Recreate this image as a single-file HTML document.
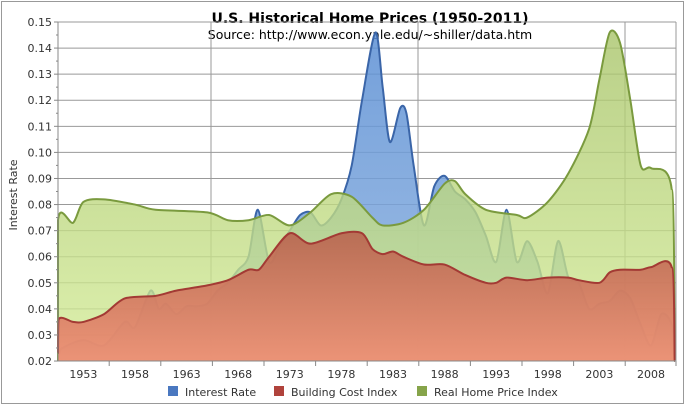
<!DOCTYPE html>
<html><head><meta charset="utf-8"><style>
body{margin:0;background:#fff;}
svg text{font-family:"DejaVu Sans","Liberation Sans",sans-serif;}
</style></head><body>
<svg id="s" width="686" height="413" xmlns="http://www.w3.org/2000/svg">
<defs>
<linearGradient id="gg" x1="0" y1="0" x2="0" y2="1"><stop offset="0" stop-color="#a8c46a"/><stop offset="1" stop-color="#d4ec98"/></linearGradient>
<linearGradient id="gr" x1="0" y1="0" x2="0" y2="1"><stop offset="0" stop-color="#b8604c"/><stop offset="1" stop-color="#f08870"/></linearGradient>
<linearGradient id="gb" x1="0" y1="0" x2="0" y2="1"><stop offset="0" stop-color="#5b8fd4"/><stop offset="1" stop-color="#8fb3e0"/></linearGradient>
</defs>
<rect x="1.5" y="1.5" width="682" height="402" fill="#fff" stroke="#999"/>
<text x="370" y="23" text-anchor="middle" font-size="14" font-weight="bold" fill="#000">U.S. Historical Home Prices (1950-2011)</text>
<text x="370" y="39" text-anchor="middle" font-size="12.5" fill="#000">Source: http://www.econ.yale.edu/~shiller/data.htm</text>
<g id="grid"></g>
<g id="series"></g>
<g id="axes"></g>
<text transform="translate(17,195) rotate(-90)" text-anchor="middle" font-size="11" fill="#333">Interest Rate</text>
<rect x="168" y="386" width="10" height="10" fill="#4a78c0"/><text x="185" y="396" font-size="11" fill="#333">Interest Rate</text>
<rect x="274" y="386" width="10" height="10" fill="#b0433c"/><text x="291" y="396" font-size="11" fill="#333">Building Cost Index</text>
<rect x="417" y="386" width="10" height="10" fill="#86a44a"/><text x="434" y="396" font-size="11" fill="#333">Real Home Price Index</text>
</svg>
<script>
var L=58,R=676,T=22,B=361;
function X(y){var v=393+(y-1983)*10.32;return Math.max(L,Math.min(R,v));}
function Y(v){return T+(0.15-v)*2608;}
var ns="http://www.w3.org/2000/svg";
function el(t,a,p){var e=document.createElementNS(ns,t);for(var k in a)e.setAttribute(k,a[k]);p.appendChild(e);return e;}
var g=document.getElementById('grid'),ax=document.getElementById('axes'),se=document.getElementById('series');
for(var i=0;i<=13;i++){var yy=T+i*26.08;el('line',{x1:L,x2:R,y1:yy,y2:yy,stroke:'#999','stroke-width':1},g);
var t=el('text',{x:52,y:yy+4,'text-anchor':'end','font-size':11,fill:'#333'},ax);t.textContent=(0.15-i*0.01).toFixed(2);
el('line',{x1:54,x2:58,y1:yy,y2:yy,stroke:'#888'},ax);if(i<13)el('line',{x1:56,x2:58,y1:yy+13,y2:yy+13,stroke:'#888'},ax);}
[211,418,625].forEach(function(x){el('line',{x1:x,x2:x,y1:T,y2:B,stroke:'#999'},g);});
el('line',{x1:L,x2:L,y1:T,y2:B,stroke:'#888'},ax);el('line',{x1:L,x2:R,y1:B,y2:B,stroke:'#888'},ax);el('line',{x1:R,x2:R,y1:T,y2:B,stroke:'#999'},ax);
for(var yr=1955.5;yr<2012;yr+=5){var x=X(yr);el('line',{x1:x,x2:x,y1:B,y2:B+5,stroke:'#888'},ax);}
for(var yr=1953;yr<=2008;yr+=5){var t=el('text',{x:X(yr),y:B+17,'text-anchor':'middle','font-size':11,fill:'#333'},ax);t.textContent=yr;}
var green=[[1950,0.02],[1950.3,0.074],[1952,0.073],[1953,0.081],[1955,0.082],[1958,0.080],[1960,0.078],[1965,0.077],[1967,0.074],[1969,0.074],[1971,0.076],[1973,0.072],[1975,0.077],[1977,0.084],[1979,0.083],[1981,0.075],[1982,0.072],[1984,0.073],[1986,0.078],[1988,0.088],[1989,0.089],[1990,0.084],[1992,0.078],[1995,0.076],[1996,0.075],[1998,0.081],[2000,0.092],[2002,0.109],[2003,0.128],[2004,0.146],[2005,0.142],[2006,0.120],[2007,0.095],[2008,0.094],[2010,0.086],[2010.3,0.02]];
var blue=[[1950,0.021],[1951,0.025],[1953,0.028],[1955,0.026],[1957,0.035],[1958,0.033],[1959.5,0.047],[1960.3,0.040],[1961,0.042],[1962,0.038],[1963,0.041],[1964,0.041],[1965,0.042],[1966,0.047],[1967,0.050],[1968,0.055],[1969,0.060],[1969.9,0.078],[1971,0.058],[1972,0.064],[1973,0.070],[1974,0.076],[1975,0.077],[1976,0.072],[1977,0.075],[1978,0.082],[1979,0.095],[1980,0.120],[1981.3,0.146],[1982,0.125],[1982.7,0.104],[1983.7,0.117],[1984.3,0.115],[1985,0.095],[1986,0.072],[1987,0.087],[1988,0.091],[1989,0.085],[1990,0.082],[1991,0.077],[1992,0.068],[1993,0.058],[1994,0.078],[1995,0.058],[1996,0.066],[1997,0.058],[1998,0.046],[1999,0.066],[2000,0.052],[2001,0.050],[2002,0.040],[2003,0.042],[2004,0.043],[2005,0.047],[2006,0.044],[2007,0.034],[2008,0.026],[2009,0.038],[2010,0.034],[2010.3,0.02]];
var red=[[1950,0.023],[1950.6,0.036],[1952,0.035],[1953,0.035],[1955,0.038],[1957,0.044],[1960,0.045],[1962,0.047],[1965,0.049],[1967,0.051],[1969,0.055],[1970,0.055],[1971,0.060],[1973,0.069],[1975,0.065],[1978,0.069],[1980,0.069],[1981,0.063],[1982,0.061],[1983,0.062],[1984,0.060],[1986,0.057],[1988,0.057],[1990,0.053],[1992,0.050],[1993,0.050],[1994,0.052],[1996,0.051],[1998,0.052],[2000,0.052],[2001,0.051],[2003,0.050],[2004,0.054],[2005,0.055],[2007,0.055],[2008,0.056],[2010,0.056],[2010.3,0.02]];
function path(d){var p=d.map(function(a){return [X(a[0]),Y(a[1])];});var s='M'+p[0][0]+','+p[0][1];
for(var i=0;i<p.length-1;i++){var p0=p[i>0?i-1:i],p1=p[i],p2=p[i+1],p3=p[i+2<p.length?i+2:i+1];
var k=7;var c1x=p1[0]+(p2[0]-p0[0])/k,c1y=p1[1]+(p2[1]-p0[1])/k,c2x=p2[0]-(p3[0]-p1[0])/k,c2y=p2[1]-(p3[1]-p1[1])/k;
c1x=Math.max(p1[0],Math.min(p2[0],c1x));c2x=Math.max(p1[0],Math.min(p2[0],c2x));
if(i==0||i>=p.length-2){c1y=p1[1];c2y=p2[1];}
c1y=Math.min(B,c1y);c2y=Math.min(B,c2y);
s+=' C'+c1x+','+c1y+' '+c2x+','+c2y+' '+p2[0]+','+p2[1];}return {line:s,area:s+' L'+p[p.length-1][0]+','+B+' L'+p[0][0]+','+B+' Z'};}
function draw(d,fill,op,stroke){var p=path(d);el('path',{d:p.area,fill:fill,'fill-opacity':op},se);el('path',{d:p.line,fill:'none',stroke:stroke,'stroke-width':2},se);}
draw(blue,'url(#gb)',0.85,'#3a65a8');
draw(green,'url(#gg)',0.8,'#7a9a3e');
draw(red,'url(#gr)',0.88,'#a33a34');
</script>
</body></html>
